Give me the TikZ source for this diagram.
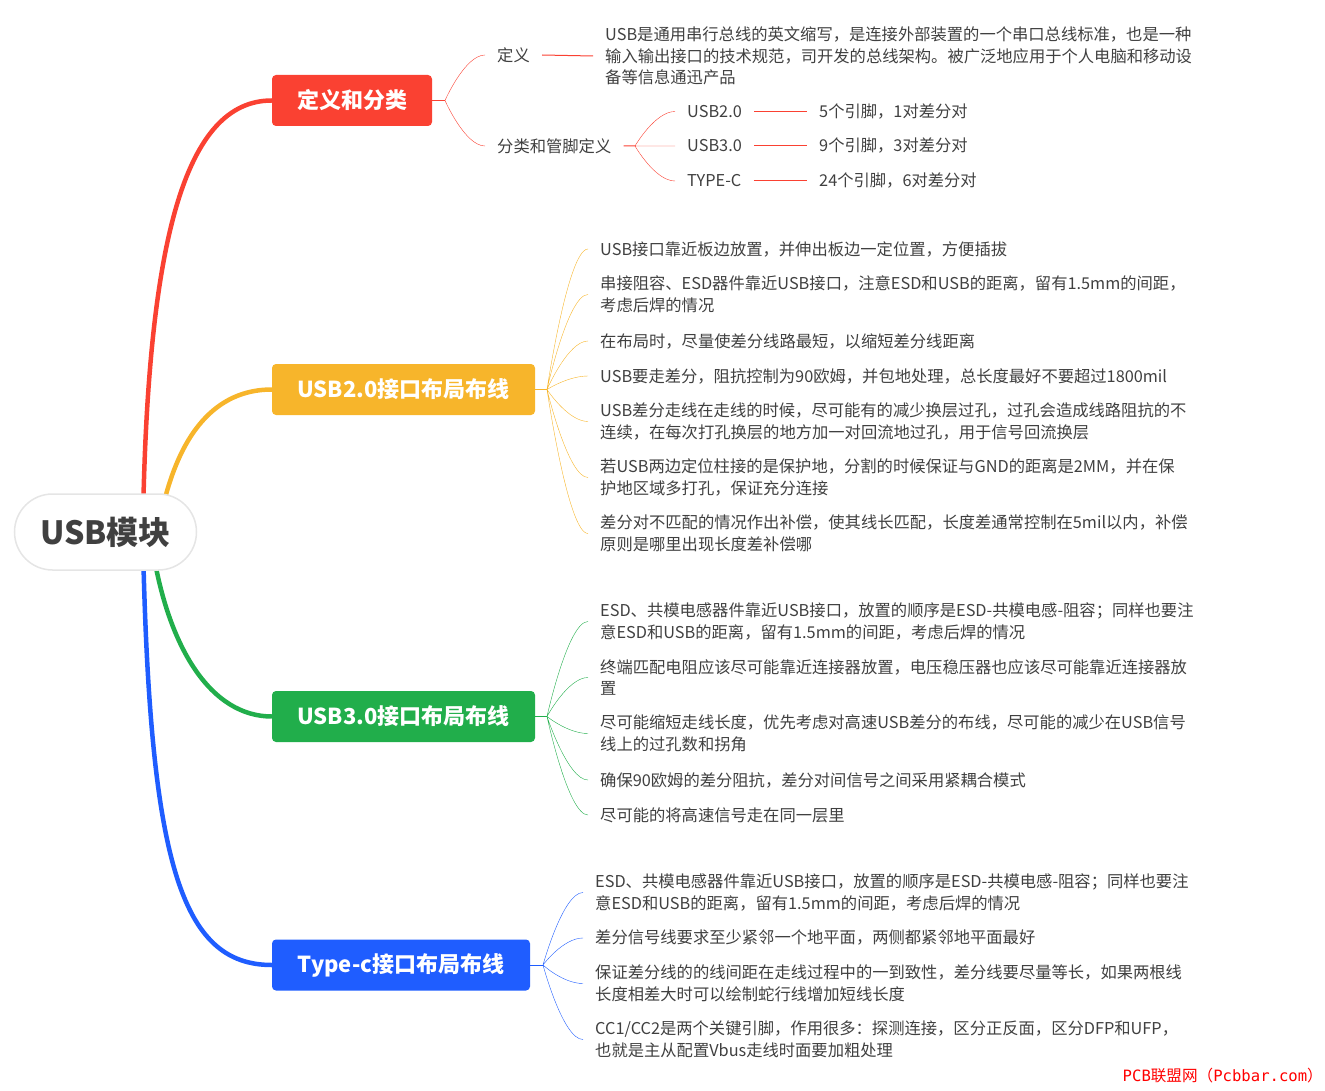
\documentclass[tikz,border=0pt]{standalone}
\usepackage{fontspec}
\setmainfont{Noto Sans CJK SC}
\newfontfamily\markfont{DejaVu Sans Mono}
\usetikzlibrary{calc}

\definecolor{cred}{RGB}{250,65,50}
\definecolor{corange}{RGB}{247,181,43}
\definecolor{cgreen}{RGB}{33,174,75}
\definecolor{cblue}{RGB}{31,93,255}
\definecolor{txtgray}{RGB}{64,64,64}

\begin{document}
\begin{tikzpicture}[x=1pt,y=-1pt,
  leaf/.style={anchor=west,inner xsep=12pt,inner ysep=1pt,align=left,text=txtgray,
    font=\fontsize{16.3}{21.5}\selectfont},
  branch/.style={rounded corners=4pt,text=white,minimum height=51pt,inner sep=0pt,
    font=\bfseries\fontsize{22}{26}\selectfont},
  trunk/.style={line width=4.5pt},
  twig/.style={line width=1pt,
    to path={.. controls (\tikztostart) and ([xshift=-20pt]\tikztotarget) .. (\tikztotarget)}}]
  \useasboundingbox (0,0) rectangle (1325,1091);

  % main branches
  \node[branch,fill=cred,minimum width=160pt] (def) at (352,100.5) {定义和分类};
  \node[branch,fill=corange,minimum width=263pt] (u2) at (403.5,389.5) {USB2.0接口布局布线};
  \node[branch,fill=cgreen,minimum width=263pt] (u3) at (403.5,716.5) {USB3.0接口布局布线};
  \node[branch,fill=cblue,minimum width=258pt] (tc) at (401,965) {Type-c接口布局布线};

  \draw[trunk,cred] (143,520) .. controls (148,240) and (185,100.5) .. (def.west);
  \draw[trunk,corange] (160,520) .. controls (180,420) and (225,389.5) .. (u2.west);
  \draw[trunk,cgreen] (152,545) .. controls (168,650) and (212,716.5) .. (u3.west);
  \draw[trunk,cblue] (143,545) .. controls (150,860) and (180,965) .. (tc.west);

  \node[draw=black!10,line width=1.5pt,fill=white,rounded corners=38pt,
    minimum width=182pt,minimum height=76pt,text=txtgray,
    font=\bfseries\fontsize{32}{36}\selectfont] (root) at (105.5,532) {USB模块};

  % definition and classes
  \coordinate (dj) at (445,100.5);
  \node[leaf] (dfn) at (485,55) {定义};
  \node[leaf] (dfnt) at (593,56) {USB是通用串行总线的英文缩写，是连接外部装置的一个串口总线标准，也是一种\\
    输入输出接口的技术规范，司开发的总线架构。被广泛地应用于个人电脑和移动设\\备等信息通迅产品};
  \node[leaf] (cls) at (485,146) {分类和管脚定义};
  \coordinate (cj) at (635,146);
  \node[leaf] (p2) at (675,111.5) {USB2.0};
  \node[leaf] (p3) at (675,146) {USB3.0};
  \node[leaf] (pc) at (675,181) {TYPE-C};
  \node[leaf] (p2t) at (807,111.5) {5个引脚，1对差分对};
  \node[leaf] (p3t) at (807,146) {9个引脚，3对差分对};
  \node[leaf] (pct) at (807,181) {24个引脚，6对差分对};

  \draw[cred,line width=1pt] (def.east) -- (dj);
  \draw[cred] (dj) to[twig] (dfn.west) (dj) to[twig] (cls.west);
  \draw[cred,line width=1pt] (dfn.east) -- (dfnt.west) (cls.east) -- (cj);
  \draw[cred] (cj) to[twig] (p2.west) (cj) to[twig] (p3.west) (cj) to[twig] (pc.west);
  \draw[cred,line width=1pt] (p2.east) -- (p2t.west) (p3.east) -- (p3t.west) (pc.east) -- (pct.west);

  % USB2.0 layout
  \coordinate (u2j) at (547,389.5);
  \node[leaf] (u2a) at (588,249) {USB接口靠近板边放置，并伸出板边一定位置，方便插拔};
  \node[leaf] (u2b) at (588,294.5) {串接阻容、ESD器件靠近USB接口，注意ESD和USB的距离，留有1.5mm的间距，\\考虑后焊的情况};
  \node[leaf] (u2c) at (588,341) {在布局时，尽量使差分线路最短，以缩短差分线距离};
  \node[leaf] (u2d) at (588,376) {USB要走差分，阻抗控制为90欧姆，并包地处理，总长度最好不要超过1800mil};
  \node[leaf] (u2e) at (588,421.5) {USB差分走线在走线的时候，尽可能有的减少换层过孔，过孔会造成线路阻抗的不\\连续，在每次打孔换层的地方加一对回流地过孔，用于信号回流换层};
  \node[leaf] (u2f) at (588,477.5) {若USB两边定位柱接的是保护地，分割的时候保证与GND的距离是2MM，并在保\\护地区域多打孔，保证充分连接};
  \node[leaf] (u2g) at (588,533.5) {差分对不匹配的情况作出补偿，使其线长匹配，长度差通常控制在5mil以内，补偿\\原则是哪里出现长度差补偿哪};

  \draw[corange,line width=1pt] (u2.east) -- (u2j);
  \draw[corange] (u2j) to[twig] (u2a.west) (u2j) to[twig] (u2b.west) (u2j) to[twig] (u2c.west)
    (u2j) to[twig] (u2d.west) (u2j) to[twig] (u2e.west) (u2j) to[twig] (u2f.west) (u2j) to[twig] (u2g.west);

  % USB3.0 layout
  \coordinate (u3j) at (547,716.5);
  \node[leaf] (u3a) at (588,621.5) {ESD、共模电感器件靠近USB接口，放置的顺序是ESD-共模电感-阻容；同样也要注\\意ESD和USB的距离，留有1.5mm的间距，考虑后焊的情况};
  \node[leaf] (u3b) at (588,677.5) {终端匹配电阻应该尽可能靠近连接器放置，电压稳压器也应该尽可能靠近连接器放\\置};
  \node[leaf] (u3c) at (588,733.5) {尽可能缩短走线长度，优先考虑对高速USB差分的布线，尽可能的减少在USB信号\\线上的过孔数和拐角};
  \node[leaf] (u3d) at (588,780) {确保90欧姆的差分阻抗，差分对间信号之间采用紧耦合模式};
  \node[leaf] (u3e) at (588,815) {尽可能的将高速信号走在同一层里};

  \draw[cgreen,line width=1pt] (u3.east) -- (u3j);
  \draw[cgreen] (u3j) to[twig] (u3a.west) (u3j) to[twig] (u3b.west) (u3j) to[twig] (u3c.west)
    (u3j) to[twig] (u3d.west) (u3j) to[twig] (u3e.west);

  % Type-c layout
  \coordinate (tcj) at (543,965);
  \node[leaf] (tca) at (583,892.5) {ESD、共模电感器件靠近USB接口，放置的顺序是ESD-共模电感-阻容；同样也要注\\意ESD和USB的距离，留有1.5mm的间距，考虑后焊的情况};
  \node[leaf] (tcb) at (583,938) {差分信号线要求至少紧邻一个地平面，两侧都紧邻地平面最好};
  \node[leaf] (tcc) at (583,983.5) {保证差分线的的线间距在走线过程中的一到致性，差分线要尽量等长，如果两根线\\长度相差大时可以绘制蛇行线增加短线长度};
  \node[leaf] (tcd) at (583,1039.5) {CC1/CC2是两个关键引脚，作用很多：探测连接，区分正反面，区分DFP和UFP，\\也就是主从配置Vbus走线时面要加粗处理};

  \draw[cblue,line width=1pt] (tc.east) -- (tcj);
  \draw[cblue] (tcj) to[twig] (tca.west) (tcj) to[twig] (tcb.west) (tcj) to[twig] (tcc.west)
    (tcj) to[twig] (tcd.west);

  \node[anchor=east,inner sep=0pt,text=red,font=\fontsize{15.6}{18}\selectfont] (mark) at (1323,1076)
    {{\markfont PCB}联盟网（{\markfont Pcbbar.com}）};
\end{tikzpicture}
\end{document}
